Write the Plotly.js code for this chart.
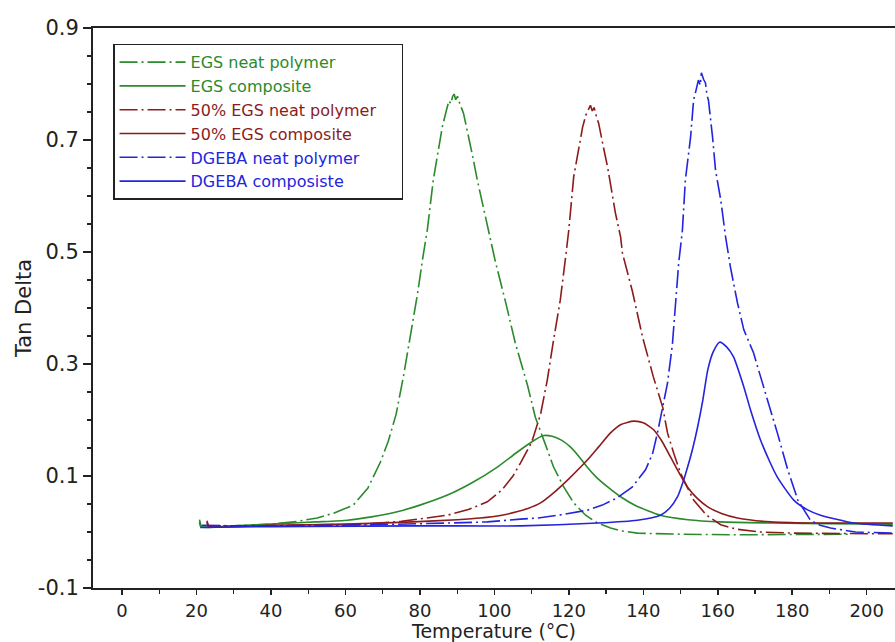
<!DOCTYPE html>
<html><head><meta charset="utf-8">
<script src="https://cdn.plot.ly/plotly-3.0.1.min.js"></script>
<style>html,body{margin:0;padding:0;background:#fff;}#chart{width:895px;height:642px;}</style>
</head><body><div id="chart"></div>
<script>
// EGS neat polymer
const egsNeatX = [20.8,21.2,30,40,47,52.4,57,62.1,66,69.4,71.5,73.6,75.5,77.4,79.3,80.9,82,83.6,85,86,87,87.8,88.3,88.8,89.2,89.6,90.1,90.7,91.7,93,94.2,95.4,97,98.9,100.3,103,105.6,108.9,111,113.5,115.9,118.5,121.3,124.5,127.7,131.2,134,138.4,150,165,180,195];
const egsNeatY = [0.022,0.011,0.011,0.014,0.019,0.025,0.034,0.048,0.078,0.125,0.162,0.21,0.275,0.348,0.423,0.495,0.54,0.629,0.68,0.723,0.75,0.77,0.765,0.778,0.782,0.772,0.778,0.765,0.748,0.709,0.67,0.629,0.58,0.527,0.482,0.411,0.338,0.262,0.205,0.16,0.116,0.082,0.052,0.03,0.016,0.007,0.002,-0.002,-0.004,-0.005,-0.004,-0.004];
// EGS composite
const egsCompX = [20.8,21.2,30,42.5,52,60.5,67,73.9,80,87.4,94,100.8,106,110.5,113,115.5,118,120.4,122.7,124.9,127.5,130.5,133.9,138,144.6,152,160.8,175,190,207];
const egsCompY = [0.018,0.009,0.011,0.015,0.018,0.021,0.027,0.036,0.048,0.066,0.088,0.116,0.142,0.163,0.172,0.171,0.164,0.152,0.135,0.116,0.097,0.08,0.063,0.047,0.03,0.022,0.018,0.016,0.015,0.014];
// 50% EGS neat polymer
const egs50NeatX = [22.8,23.2,35,50,64.8,75,87.4,93,98.1,102,105,107,110,112.4,114.2,115.9,117.7,119.1,120,121.3,122.5,123.7,124.6,125.3,125.8,126.3,126.8,127.4,128,129.2,130.4,132.5,133.9,134.4,137.1,139.8,142.7,145.2,146.5,148.2,150,151.8,153.5,157,160.8,165,171.5,180,190,200,207];
const egs50NeatY = [0.02,0.011,0.011,0.012,0.014,0.019,0.03,0.04,0.054,0.075,0.1,0.123,0.16,0.21,0.271,0.343,0.414,0.489,0.54,0.634,0.68,0.723,0.745,0.755,0.762,0.752,0.758,0.742,0.73,0.69,0.652,0.57,0.527,0.498,0.429,0.348,0.277,0.223,0.177,0.14,0.105,0.08,0.057,0.03,0.013,0.005,0.0,-0.002,-0.003,-0.003,-0.003];
// 50% EGS composite
const egs50CompX = [22.8,23.2,40,60,78.2,90,96.2,102,106,109,112.4,115.9,120,124.9,128,131.2,134,137.4,140,142.7,145,147.3,149.5,151.9,154.5,157.3,161,165.3,174.2,185,195,207];
const egs50CompY = [0.017,0.01,0.012,0.014,0.018,0.022,0.025,0.03,0.036,0.042,0.052,0.07,0.095,0.128,0.152,0.177,0.192,0.198,0.195,0.183,0.162,0.134,0.107,0.08,0.06,0.045,0.033,0.025,0.018,0.016,0.016,0.016];
// DGEBA neat polymer
const dgebaNeatX = [21.5,30,45,64.8,87.4,98.1,107,111.8,118,125,129,133,137,140.6,142.5,143.8,145.2,146.5,147.8,148.7,149.5,150.5,151.3,152.7,153.5,154.2,154.8,155.3,155.6,156.2,156.7,157.1,157.5,158.6,159.4,160.8,162.1,163.4,165.3,167,169.6,172.8,174.2,176,178.8,181.5,184.9,187.5,190.3,197,207];
const dgebaNeatY = [0.012,0.011,0.011,0.0125,0.016,0.018,0.023,0.025,0.031,0.039,0.048,0.061,0.08,0.111,0.14,0.177,0.223,0.266,0.334,0.409,0.48,0.539,0.629,0.705,0.771,0.79,0.807,0.798,0.82,0.808,0.802,0.78,0.771,0.705,0.646,0.593,0.527,0.473,0.409,0.361,0.32,0.248,0.218,0.177,0.111,0.057,0.021,0.012,0.007,0.0,-0.002];
// DGEBA composiste
const dgebaCompX = [21,30,50,80,107,127.7,138.4,144.6,147,149.2,150.6,151.9,153.3,154.6,156,157.3,158.8,160.5,162.3,164.2,167,168.8,171.5,174,176,180.4,184,187.6,196.5,207];
const dgebaCompY = [0.008,0.009,0.01,0.011,0.011,0.016,0.021,0.03,0.042,0.063,0.088,0.116,0.15,0.188,0.236,0.289,0.322,0.339,0.331,0.313,0.259,0.218,0.164,0.125,0.098,0.057,0.04,0.03,0.016,0.011];

// axis tick labels
const yTickVals = [-0.1, 0.1, 0.3, 0.5, 0.7, 0.9];
const yTickText = ['-0.1', '0.1', '0.3', '0.5', '0.7', '0.9'];

const names = ['EGS neat polymer','EGS composite','50% EGS neat polymer','50% EGS composite','DGEBA neat polymer','DGEBA composiste'];
const GREEN = '#2b8a2b', RED = '#8c1c1c', BLUE = '#2424dd';
const DASHDOT = '18px,4px,2px,4px';
const PAD = '\u00a0\u00a0\u00a0\u00a0';

function tr(x, y, i, color, dashed) {
  return {
    x: x, y: y, type: 'scatter', mode: 'lines',
    name: '<span style="color:' + color + '">' + names[i] + '</span>' + PAD,
    line: {color: color, width: 1.6, dash: dashed ? DASHDOT : 'solid',
           shape: dashed ? 'linear' : 'spline', smoothing: 0.6}
  };
}
const data = [
  tr(egsNeatX, egsNeatY, 0, GREEN, true),
  tr(egsCompX, egsCompY, 1, GREEN, false),
  tr(egs50NeatX, egs50NeatY, 2, RED, true),
  tr(egs50CompX, egs50CompY, 3, RED, false),
  tr(dgebaNeatX, dgebaNeatY, 4, BLUE, true),
  tr(dgebaCompX, dgebaCompY, 5, BLUE, false)
];
const font = '"DejaVu Sans", Arial, sans-serif';
const layout = {
  width: 895, height: 642,
  margin: {l: 93, r: 0, t: 28, b: 54},
  paper_bgcolor: '#fff', plot_bgcolor: '#fff',
  font: {family: font, color: '#222'},
  showlegend: true,
  legend: {
    x: 0.025, y: 0.972, xanchor: 'left', yanchor: 'top',
    bordercolor: '#222', borderwidth: 1.5, bgcolor: '#fff',
    font: {family: font, size: 16}, tracegroupgap: 0, itemwidth: 66
  },
  xaxis: {
    range: [-7.8, 207.6], tickmode: 'linear', tick0: 0, dtick: 20,
    ticks: 'outside', ticklen: 5, tickwidth: 1.5, tickcolor: '#222',
    minor: {dtick: 10, ticks: 'outside', ticklen: 4, tickcolor: '#222', tickwidth: 1.2},
    showline: true, linecolor: '#222', linewidth: 2, mirror: true,
    showgrid: false, zeroline: false,
    tickfont: {size: 18, family: font, color: '#222'},
    title: {text: 'Temperature (°C)', font: {size: 19, family: font, color: '#222'}, standoff: 0}
  },
  yaxis: {
    range: [-0.1, 0.9], tickmode: 'array', tickvals: yTickVals, ticktext: yTickText,
    ticks: 'outside', ticklen: 8, tickwidth: 1.5, tickcolor: '#222',
    minor: {tickmode: 'linear', tick0: -0.1, dtick: 0.05, ticks: 'outside', ticklen: 4, tickcolor: '#222', tickwidth: 1.2},
    showline: true, linecolor: '#222', linewidth: 2,
    showgrid: false, zeroline: false,
    tickfont: {size: 21, family: font, color: '#222'},
    title: {text: 'Tan Delta', font: {size: 21, family: font, color: '#222'}, standoff: 0}
  }
};
Plotly.newPlot('chart', data, layout, {displayModeBar: false, staticPlot: true});
</script>
</body></html>
